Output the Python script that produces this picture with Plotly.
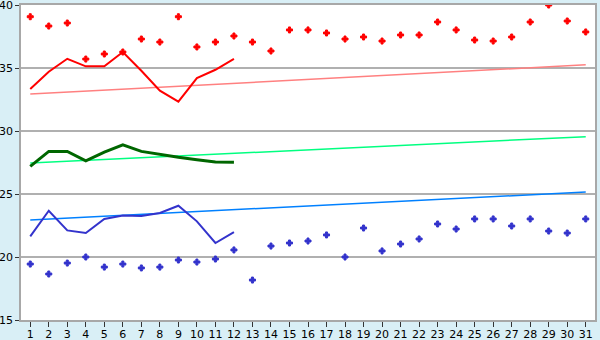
import plotly.graph_objects as go

days = list(range(1, 32))
line_days = list(range(1, 13))

red_points = [39.07, 38.33, 38.57, 35.71, 36.11, 36.27, 37.30, 37.06, 39.07, 36.67,
              37.06, 37.54, 37.06, 36.35, 38.02, 38.02, 37.78, 37.30, 37.46, 37.14,
              37.62, 37.62, 38.65, 38.02, 37.22, 37.14, 37.46, 38.65, 40.0, 38.73, 37.86]
red_line = [33.33, 34.7, 35.73, 35.13, 35.13, 36.27, 34.78, 33.2, 32.33, 34.2, 34.86, 35.73]
red_trend = [32.94, 35.25]

green_line = [27.19, 28.38, 28.38, 27.64, 28.33, 28.91, 28.38, 28.12, 27.91, 27.72, 27.54, 27.51]
green_trend = [27.46, 29.55]

blue_points = [19.44, 18.65, 19.52, 20.0, 19.2, 19.44, 19.13, 19.2, 19.76, 19.6,
               19.84, 20.56, 18.17, 20.87, 21.11, 21.27, 21.75, 20.0, 22.30, 20.48,
               21.03, 21.43, 22.62, 22.22, 23.02, 23.02, 22.46, 23.02, 22.06, 21.90, 23.02]
blue_line = [21.64, 23.67, 22.11, 21.9, 23.02, 23.3, 23.25, 23.49, 24.07, 22.83, 21.11, 21.98]
blue_trend = [22.94, 25.16]

trend_x = [days[0], days[-1]]

fig = go.Figure()
fig.add_trace(go.Scatter(x=trend_x, y=red_trend, mode="lines",
                         line=dict(color="#ff8080", width=1.5)))
fig.add_trace(go.Scatter(x=trend_x, y=green_trend, mode="lines",
                         line=dict(color="#00ff80", width=1.5)))
fig.add_trace(go.Scatter(x=trend_x, y=blue_trend, mode="lines",
                         line=dict(color="#0080ff", width=1.5)))
fig.add_trace(go.Scatter(x=line_days, y=red_line, mode="lines",
                         line=dict(color="#ff0000", width=2)))
fig.add_trace(go.Scatter(x=line_days, y=green_line, mode="lines",
                         line=dict(color="#006600", width=3)))
fig.add_trace(go.Scatter(x=line_days, y=blue_line, mode="lines",
                         line=dict(color="#3333cc", width=2)))
fig.add_trace(go.Scatter(x=days, y=red_points, mode="markers",
                         marker=dict(symbol="cross", size=5, color="#ff0000",
                                     line=dict(color="#ff0000", width=1))))
fig.add_trace(go.Scatter(x=days, y=blue_points, mode="markers",
                         marker=dict(symbol="cross", size=5, color="#3333cc",
                                     line=dict(color="#3333cc", width=1))))

fig.update_layout(
    width=600, height=340,
    margin=dict(l=21, r=5, t=5, b=20),
    paper_bgcolor="#d9eff6",
    plot_bgcolor="#ffffff",
    showlegend=False,
    font=dict(family="DejaVu Sans", size=11, color="#000000"),
)
fig.update_xaxes(
    range=[0.5, 31.5], tickmode="array", tickvals=days,
    ticktext=[str(d) for d in days], automargin=False,
    ticklabeloverflow="allow", ticklabelstandoff=-2,
    ticks="outside", ticklen=5, tickcolor="#333333",
    showgrid=False, zeroline=False,
    showline=True, linecolor="#a8a8a8", linewidth=1.5, mirror=True,
)
fig.update_yaxes(
    range=[15, 40], tickvals=[15, 20, 25, 30, 35, 40], automargin=False,
    ticklabeloverflow="allow",
    ticks="outside", ticklen=4, tickcolor="#333333",
    showgrid=True, gridcolor="#b0b0b0", gridwidth=1.5, zeroline=False,
    showline=True, linecolor="#a8a8a8", linewidth=1.5, mirror=True,
)

fig.write_html("out.html")
